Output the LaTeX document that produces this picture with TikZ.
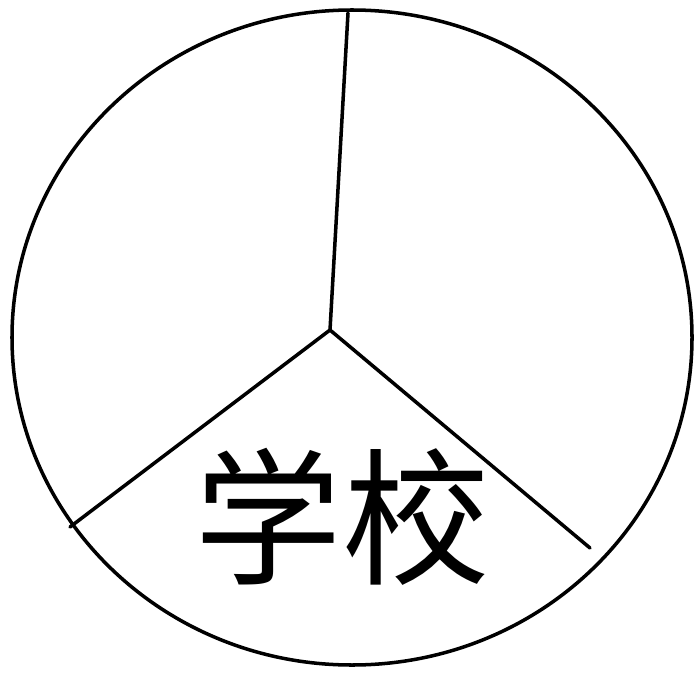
\documentclass[tikz,border=0pt]{standalone}
\usepackage{fontspec}
\newfontfamily\cjk{Noto Sans CJK SC}
\usetikzlibrary{calc}

\begin{document}
\begin{tikzpicture}[
    every node/.style={font=\cjk},
    rim/.style={line width=2pt, black},
    spoke/.style={line width=2pt, black, line cap=round},
  ]

  % Bounding box: 696x672 px at 0.02 cm per px
  \useasboundingbox (0, 0) rectangle (13.92, 13.44);

  % Coordinates
  \coordinate (centre) at (7.04, 6.69);   % middle of the outline
  \coordinate (hub) at (6.60, 6.84);      % where the three spokes meet
  \coordinate (top) at (6.96, 13.18);     % top spoke end
  \coordinate (left) at (1.40, 2.90);     % lower-left spoke end
  \coordinate (right) at (11.80, 2.48);   % lower-right spoke end

  % --- Outline ---
  \draw[rim] (centre) ellipse[x radius=6.80, y radius=6.55];

  % --- Three spokes ---
  \draw[spoke] (hub) -- (top);
  \draw[spoke] (hub) -- (left);
  \draw[spoke] (hub) -- (right);

  % --- Label in the lower sector ---
  \node[font=\cjk\fontsize{84}{86}\selectfont, inner sep=0pt] (label) at (6.84, 3.10) {学校};

\end{tikzpicture}
\end{document}
